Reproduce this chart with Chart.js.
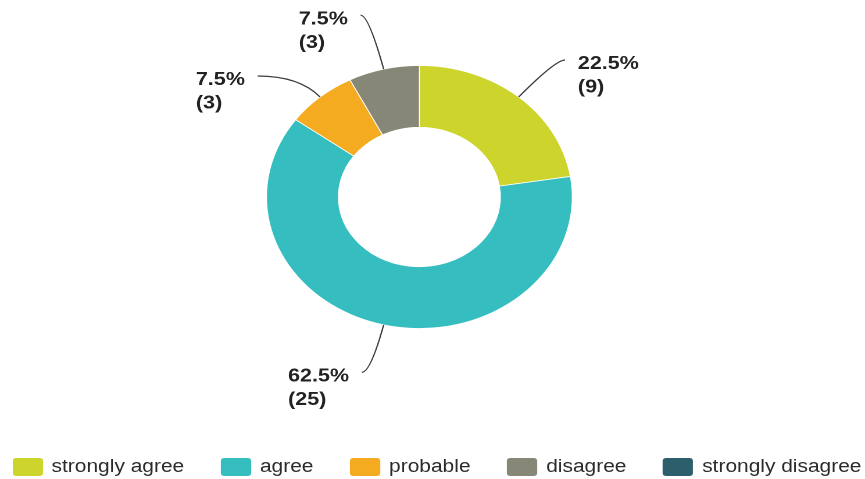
<!DOCTYPE html>
<html>
<head>
<meta charset="utf-8">
<script src="https://cdn.jsdelivr.net/npm/chart.js@4.4.1/dist/chart.umd.min.js"></script>
<style>
html,body{margin:0;padding:0;background:#ffffff;overflow:hidden;width:865px;height:479px;}
#frame{position:absolute;left:0;top:0;width:744px;height:479px;transform:scaleX(1.16263);transform-origin:0 0;}
#wrap{position:absolute;left:0;top:0;width:744px;height:479px;}
#legend{position:absolute;left:10.9px;top:457.7px;display:flex;gap:31.6px;font-family:"Liberation Sans",Arial,sans-serif;font-size:18px;color:#2b2b2b;white-space:nowrap;}
.item{display:flex;align-items:flex-start;height:18px;}
.box{width:25.8px;height:18px;border-radius:3px;margin-right:7.7px;flex:none;}
.txt{line-height:18px;position:relative;top:-0.9px;}
</style>
</head>
<body>
<div id="frame">
  <div id="wrap"><canvas id="c"></canvas></div>
  <div id="legend"></div>
</div>
<script>
// ---- data ----
const labels = ['strongly agree', 'agree', 'probable', 'disagree', 'strongly disagree'];
const counts = [9, 25, 3, 3, 0];
const colors = ['#cdd42b', '#35bdbf', '#f5ab1f', '#878777', '#2c5e6c'];

// ---- label leader styling (radial extension d, horizontal run h) ----
const leaderStyle = [
  {d: 48.7, h: 8.3},
  {d: 48.8, h: 7.4},
  {d: 27.6, h: 35.7},
  {d: 55.5, h: 6.9},
  {d: 0, h: 0}
];

const total = counts.reduce((a, b) => a + b, 0);

const leaderPlugin = {
  id: 'leaders',
  afterDatasetsDraw(chart) {
    const ctx = chart.ctx;
    const meta = chart.getDatasetMeta(0);
    ctx.save();
    ctx.strokeStyle = '#3a3a3a';
    ctx.lineWidth = 1.2;
    ctx.fillStyle = '#222222';
    ctx.font = 'bold 18.5px "Liberation Sans", Arial, sans-serif';
    ctx.textBaseline = 'alphabetic';
    ctx.textAlign = 'left';
    meta.data.forEach((arc, i) => {
      const v = counts[i];
      if (!v) return;
      const p = arc.getProps(['x', 'y', 'startAngle', 'endAngle', 'outerRadius'], true);
      const a = (p.startAngle + p.endAngle) / 2;
      const c = Math.cos(a), s = Math.sin(a);
      const o = leaderStyle[i];
      const side = c >= 0 ? 1 : -1;
      const R = p.outerRadius;
      const ax = p.x + R * c, ay = p.y + R * s;
      const ex = p.x + (R + o.d) * c, ey = p.y + (R + o.d) * s;
      const hx = ex + side * o.h, hy = ey;
      ctx.beginPath();
      ctx.moveTo(ax, ay);
      ctx.quadraticCurveTo(ex, ey, hx, hy);
      ctx.stroke();
      const line1 = (v / total * 100).toFixed(1) + '%';
      const line2 = '(' + v + ')';
      const w = Math.max(ctx.measureText(line1).width, ctx.measureText(line2).width);
      const tx = side > 0 ? hx + 11 : hx - 11 - w;
      ctx.fillText(line1, tx, hy + 9.2);
      ctx.fillText(line2, tx, hy + 9.2 + 23.4);
    });
    ctx.restore();
  }
};

const chart = new Chart(document.getElementById('c'), {
  type: 'doughnut',
  data: {
    labels: labels,
    datasets: [{
      data: counts,
      backgroundColor: colors,
      borderColor: '#ffffff',
      borderWidth: 0.8,
      hoverOffset: 0,
      radius: 131.5,
      cutout: '53%'
    }]
  },
  options: {
    responsive: true,
    maintainAspectRatio: false,
    animation: false,
    devicePixelRatio: 2,
    events: [],
    layout: {padding: {left: 0, right: 22.6, top: 65.5, bottom: 150.5}},
    plugins: {legend: {display: false}, tooltip: {enabled: false}}
  },
  plugins: [leaderPlugin]
});

// HTML legend built from the chart's own legend items
const legendEl = document.getElementById('legend');
const items = chart.options.plugins.legend.labels.generateLabels(chart);
items.forEach(it => {
  const d = document.createElement('div');
  d.className = 'item';
  const b = document.createElement('span');
  b.className = 'box';
  b.style.background = it.fillStyle;
  const t = document.createElement('span');
  t.className = 'txt';
  t.textContent = it.text;
  d.appendChild(b);
  d.appendChild(t);
  legendEl.appendChild(d);
});
</script>
</body>
</html>
